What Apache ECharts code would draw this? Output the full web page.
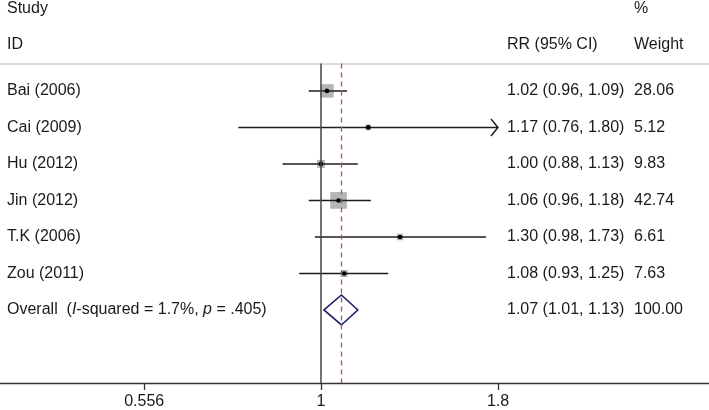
<!DOCTYPE html>
<html>
<head>
<meta charset="utf-8">
<script src="https://cdn.jsdelivr.net/npm/echarts@6/dist/echarts.min.js"></script>
<style>
html,body{margin:0;padding:0;background:#fff;}
#chart{width:709px;height:410px;}
</style>
</head>
<body>
<div id="chart"></div>
<script>
// ---- data ----
const studies = ['Bai (2006)', 'Cai (2009)', 'Hu (2012)', 'Jin (2012)', 'T.K (2006)', 'Zou (2011)'];
const rr      = [1.02, 1.17, 1.00, 1.06, 1.30, 1.08];
const ciLow   = [0.96, 0.76, 0.88, 0.96, 0.98, 0.93];
const ciHigh  = [1.09, 1.80, 1.13, 1.18, 1.73, 1.25];
const weights = [28.06, 5.12, 9.83, 42.74, 6.61, 7.63];
const overallRR = 1.07;
const overallLow = 1.01;
const overallHigh = 1.13;
const overallWeight = 100.00;
const overallLabel = 'Overall  ({i|I}-squared = 1.7%, {i|p} = .405)';
const tickValues = [0.556, 1, 1.8];

// ---- layout / style ----
const FONT = '"Liberation Sans", Arial, Helvetica, sans-serif';
const TXT = '#1a1a1a';
const colName = 7, colCI = 507, colW = 634;
const clipMax = tickValues[tickValues.length - 1];

const rows = studies.map((s, i) => [rr[i], i, ciLow[i], ciHigh[i], weights[i]]);
const overallRow = [[overallRR, studies.length, overallLow, overallHigh, overallWeight]];

function ciText(a, b, c) {
  return a.toFixed(2) + ' (' + b.toFixed(2) + ', ' + c.toFixed(2) + ')';
}

function textEl(x, y, text, extra) {
  return {
    type: 'text',
    x: x, y: y,
    style: Object.assign({
      text: text, fill: TXT, font: '16px ' + FONT,
      verticalAlign: 'middle', align: 'left'
    }, extra || {})
  };
}

function renderStudy(params, api) {
  const i = params.dataIndex;
  const v = api.value(0), row = api.value(1), l = api.value(2), h = api.value(3), w = api.value(4);
  const pc = api.coord([v, row]);
  const pl = api.coord([l, row]);
  const ph = api.coord([Math.min(h, clipMax), row]);
  const y = pc[1];
  const side = 2.55 * Math.sqrt(w);
  const children = [
    { type: 'rect', shape: { x: pc[0] - side / 2, y: y - side / 2, width: side, height: side },
      style: { fill: '#b5b5b5' } },
    { type: 'line', shape: { x1: pl[0], y1: y, x2: ph[0], y2: y },
      style: { stroke: '#1e1e1e', lineWidth: 1.5 } },
    { type: 'circle', shape: { cx: pc[0], cy: y, r: 2.3 }, style: { fill: '#000' } },
    textEl(colName, y, studies[i]),
    textEl(colCI, y, ciText(v, l, h)),
    textEl(colW, y, w.toFixed(2))
  ];
  if (h >= clipMax) {
    children.push({ type: 'polyline',
      shape: { points: [[ph[0] - 7, y - 8.5], [ph[0], y], [ph[0] - 7, y + 8.5]] },
      style: { stroke: '#1e1e1e', lineWidth: 1.5, fill: 'none' } });
  }
  return { type: 'group', children: children };
}

function renderOverall(params, api) {
  const v = api.value(0), row = api.value(1), l = api.value(2), h = api.value(3), w = api.value(4);
  const pc = api.coord([v, row]);
  const pl = api.coord([l, row]);
  const ph = api.coord([h, row]);
  const y = pc[1];
  const hh = 15;
  return { type: 'group', children: [
    { type: 'polygon',
      shape: { points: [[pl[0], y], [pc[0], y - hh], [ph[0], y], [pc[0], y + hh]] },
      style: { stroke: '#1f1f6e', lineWidth: 1.6, fill: 'none' } },
    { type: 'text', x: colName, y: y,
      style: { text: overallLabel, fill: TXT, font: '16px ' + FONT, verticalAlign: 'middle', align: 'left',
        rich: { i: { fontStyle: 'italic', fontSize: 16, fontFamily: FONT, fill: TXT } } } },
    textEl(colCI, y, ciText(v, l, h)),
    textEl(colW, y, w.toFixed(2))
  ]};
}

const xMin = 0.3444, xMax = 3.6272;

const chart = echarts.init(document.getElementById('chart'), null, { renderer: 'canvas' });
chart.setOption({
  animation: false,
  backgroundColor: '#fff',
  grid: { left: 0, right: 0, top: 63.5, bottom: 25.7 },
  xAxis: [{
    type: 'log', logBase: 10, min: xMin, max: xMax, position: 'bottom',
    axisLine: { show: true, onZero: false, lineStyle: { color: '#333', width: 1.3 } },
    axisTick: { show: true, length: 7, customValues: tickValues, lineStyle: { color: '#333', width: 1.3 } },
    axisLabel: { show: true, customValues: tickValues, margin: 11, fontSize: 16, fontFamily: FONT, color: TXT,
      formatter: function (v) { return String(Number(Number(v).toPrecision(3))); } },
    splitLine: { show: false }, minorTick: { show: false }, minorSplitLine: { show: false }
  }, {
    type: 'log', logBase: 10, min: xMin, max: xMax, position: 'top',
    axisLine: { show: true, onZero: false, lineStyle: { color: '#cfcfcf', width: 1.5 } },
    axisTick: { show: false }, axisLabel: { show: false }, splitLine: { show: false }
  }],
  yAxis: {
    type: 'value', inverse: true, min: -0.75, max: 8,
    show: false, splitLine: { show: false }
  },
  graphic: [
    textEl(colName, 9, 'Study'),
    textEl(colW, 9, '%'),
    textEl(colName, 45, 'ID'),
    textEl(colCI, 45, 'RR (95% CI)'),
    textEl(colW, 45, 'Weight')
  ],
  series: [{
    type: 'custom', xAxisIndex: 0, yAxisIndex: 0, clip: false,
    data: rows, encode: { x: 0, y: 1 },
    renderItem: renderStudy,
    z: 3,
    markLine: {
      silent: true, symbol: 'none', label: { show: false },
      data: [
        { xAxis: 1, lineStyle: { color: '#454545', width: 1.5, type: 'solid' } },
        { xAxis: overallRR, lineStyle: { color: '#c24a68', width: 1.3, type: [5, 4] } }
      ]
    }
  }, {
    type: 'custom', xAxisIndex: 0, yAxisIndex: 0, clip: false,
    data: overallRow, encode: { x: 0, y: 1 },
    renderItem: renderOverall,
    z: 3
  }]
});
</script>
</body>
</html>
